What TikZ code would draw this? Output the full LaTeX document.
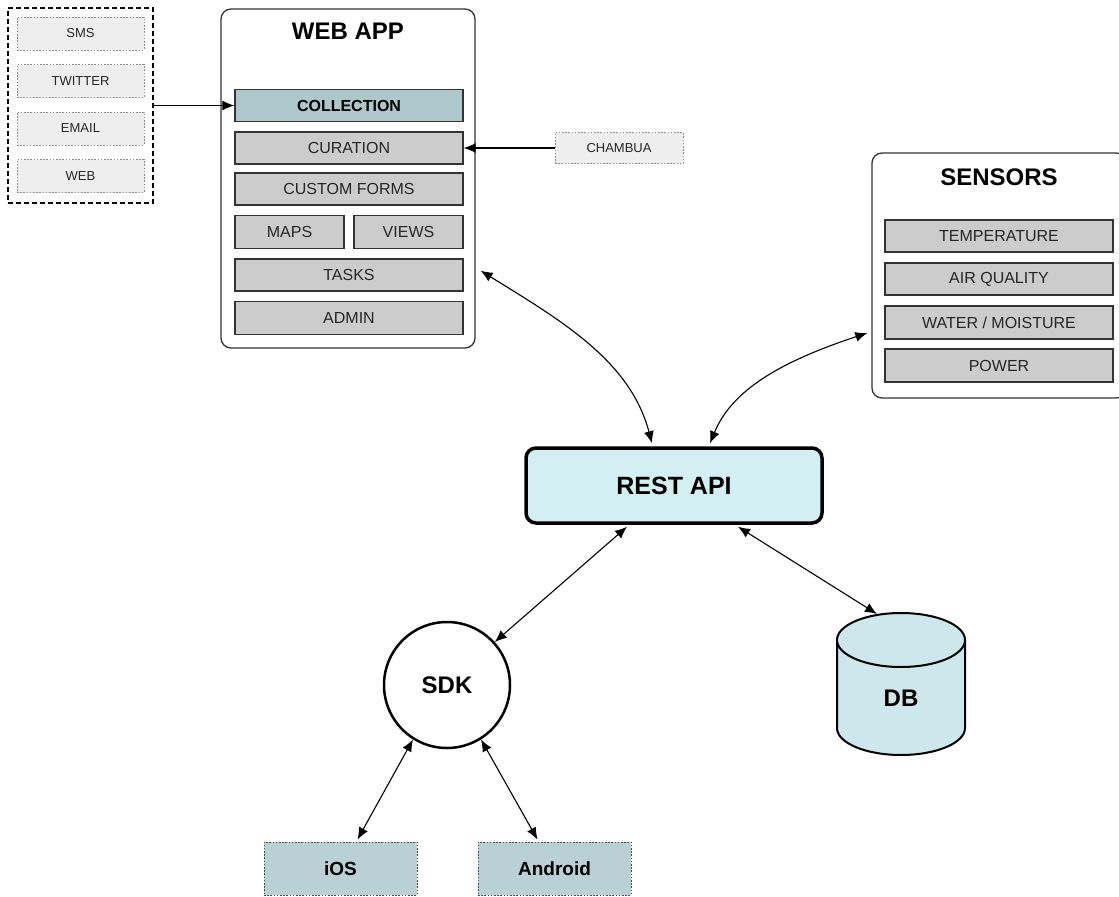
\documentclass[tikz,border=0pt]{standalone}
\usepackage{fontspec}
\setmainfont{Liberation Sans}
\usetikzlibrary{calc,arrows.meta}

\definecolor{itemgray}{HTML}{CCCCCC}
\definecolor{srcgray}{HTML}{EEEEEE}
\definecolor{colteal}{HTML}{AEC7CB}
\definecolor{devteal}{HTML}{B9D1D5}
\definecolor{restcyan}{HTML}{D3EFF4}
\definecolor{dbcyan}{HTML}{CDE7EC}

\tikzset{
	item/.style={draw=black!80, line width=1.4bp, fill=itemgray, inner sep=0pt,
		minimum width=228bp, minimum height=32bp, text=black!85,
		font=\fontsize{16bp}{18bp}\selectfont},
	halfitem/.style={item, minimum width=109bp, minimum height=33bp},
	srcbox/.style={draw=black!45, dash pattern=on 1.6bp off 1.6bp, line width=0.9bp,
		fill=srcgray, inner sep=0pt, minimum width=127bp, minimum height=33bp,
		text=black!85, font=\fontsize{13bp}{15bp}\selectfont},
	panel/.style={draw=black!80, line width=1.3bp, rounded corners=10bp, inner sep=0pt},
	paneltitle/.style={font=\bfseries\fontsize{24bp}{28bp}\selectfont},
	device/.style={draw=black!70, dash pattern=on 1.6bp off 1.6bp, line width=0.9bp,
		fill=devteal, inner sep=0pt, minimum width=153bp, minimum height=53bp,
		font=\bfseries\fontsize{19bp}{22bp}\selectfont},
	link/.style={line width=1.1bp, {Latex[length=12bp,width=10bp]}-{Latex[length=12bp,width=10bp]}},
	feed/.style={line width=1.1bp, -{Latex[length=12bp,width=10bp]}},
}

\begin{document}
\begin{tikzpicture}[x=1bp, y=-1bp]
		%%%%% START %%%%%
		
		\useasboundingbox[fill=white] (0, 0) rectangle (1119, 897);
		
		% sources
		\node[draw, line width=1.2bp, dash pattern=on 5bp off 3bp, minimum width=145bp, minimum height=195bp] (src) at (80.5, 105.5) {};
		\node[srcbox] (sms) at (80.5, 33.5) {SMS};
		\node[srcbox] (twitter) at (80.5, 81) {TWITTER};
		\node[srcbox] (email) at (80.5, 128.5) {EMAIL};
		\node[srcbox] (web) at (80.5, 176) {WEB};
		
		% web app
		\node[panel, minimum width=254bp, minimum height=339bp] (webapp) at (348, 178.5) {};
		\node[paneltitle] (webtitle) at (348, 31) {WEB APP};
		\node[item, fill=colteal, font=\bfseries\fontsize{16bp}{18bp}\selectfont, text=black] (collection) at (349, 105.5) {COLLECTION};
		\node[item] (curation) at (349, 148) {CURATION};
		\node[item] (forms) at (349, 189) {CUSTOM FORMS};
		\node[halfitem] (maps) at (289.5, 232) {MAPS};
		\node[halfitem] (views) at (408.5, 232) {VIEWS};
		\node[item] (tasks) at (349, 275) {TASKS};
		\node[item, minimum height=33bp] (admin) at (349, 318) {ADMIN};
		
		\node[srcbox, minimum width=128bp, minimum height=31bp] (chambua) at (619, 148) {CHAMBUA};
		
		\draw[feed] (src.east) -- (collection.west);
		\draw[feed] (chambua.west) -- (curation.east);
		
		% sensors
		\node[panel, minimum width=254bp, minimum height=245bp] (sensors) at (999, 275.5) {};
		\node[paneltitle] (sentitle) at (999, 177) {SENSORS};
		\node[item] (temp) at (999, 236) {TEMPERATURE};
		\node[item] (air) at (999, 279) {AIR QUALITY};
		\node[item, minimum height=33bp] (water) at (999, 322.5) {WATER / MOISTURE};
		\node[item, minimum height=33bp] (power) at (999, 365.5) {POWER};
		
		% api
		\node[draw, line width=3.5bp, rounded corners=10bp, fill=restcyan, minimum width=296bp, minimum height=75bp,
			font=\bfseries\fontsize{25bp}{29bp}\selectfont] (rest) at (674, 485.5) {REST API};
		
		\draw[link] ($(webapp.south east)+(5, -78)$) .. controls (560, 320) and (630, 360) .. ($(rest.north)+(-22, -3)$);
		\draw[link] ($(rest.north)+(36, -3)$) .. controls (730, 395) and (770, 365) .. ($(sensors.west)+(-4, 57.5)$);
		
		% db
		\draw[line width=2bp, fill=dbcyan] (837, 640) -- (837, 728) arc[start angle=180, end angle=0, x radius=64, y radius=27] -- (965, 640);
		\draw[line width=2bp, fill=dbcyan] (901, 640) ellipse [x radius=64, y radius=27];
		\node[font=\bfseries\fontsize{24bp}{28bp}\selectfont] (db) at (901, 698) {DB};
		\coordinate (dbtop) at (877, 614);
		
		% sdk
		\node[circle, draw, line width=2.5bp, minimum size=126bp, inner sep=0pt,
			font=\bfseries\fontsize{24bp}{28bp}\selectfont] (sdk) at (447, 685) {SDK};
		\node[device] (ios) at (340.5, 868.5) {iOS};
		\node[device] (android) at (554.5, 868.5) {Android};
		
		\draw[link] ($(rest.south)+(-47, 2)$) -- (sdk.42);
		\draw[link] ($(rest.south)+(64, 2)$) -- (dbtop);
		\draw[link] (sdk.238) -- ($(ios.north)+(17, -2)$);
		\draw[link] (sdk.302) -- ($(android.north)+(-17, -2)$);
		
		%%%%% END %%%%%
	\end{tikzpicture}
\end{document}
